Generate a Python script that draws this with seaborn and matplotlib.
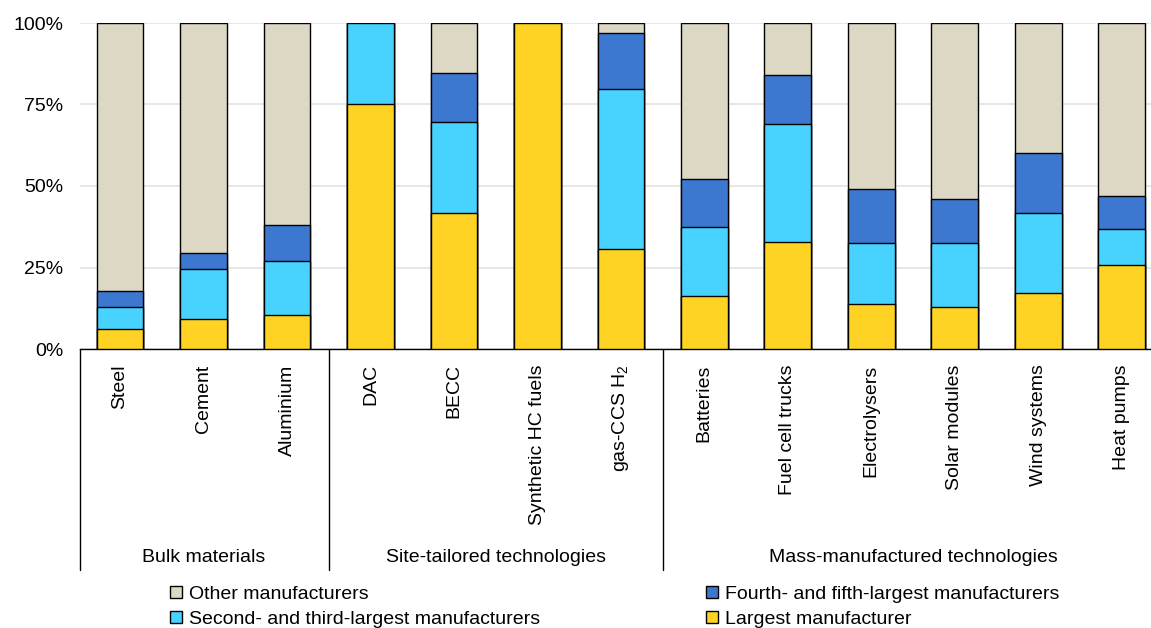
import matplotlib
matplotlib.use("Agg")
import matplotlib.pyplot as plt
import matplotlib.transforms as mtransforms
from matplotlib.patches import Patch
import seaborn as sns
import numpy as np
import pandas as pd

categories = ["Steel", "Cement", "Aluminium", "DAC", "BECC", "Synthetic HC fuels",
              "gas-CCS H$_2$", "Batteries", "Fuel cell trucks", "Electrolysers",
              "Solar modules", "Wind systems", "Heat pumps"]
largest = [6.0, 9.1, 10.5, 75.0, 41.7, 100.0, 30.7, 16.2, 32.7, 13.8, 12.8, 17.1, 25.9]
second_third = [7.0, 15.3, 16.4, 25.0, 27.9, 0.0, 49.2, 21.2, 36.3, 18.6, 19.6, 24.5, 11.0]
fourth_fifth = [4.7, 5.0, 11.2, 0.0, 15.1, 0.0, 16.9, 14.6, 15.1, 16.7, 13.5, 18.4, 10.0]
other = [82.3, 70.6, 61.9, 0.0, 15.3, 0.0, 3.2, 48.0, 15.9, 50.9, 54.1, 40.0, 53.1]
groups = ["Bulk materials", "Site-tailored technologies", "Mass-manufactured technologies"]
group_sizes = [3, 4, 6]
series_names = ["Largest manufacturer", "Second- and third-largest manufacturers",
                "Fourth- and fifth-largest manufacturers", "Other manufacturers"]
colors = ["#FFD324", "#48D3FF", "#3D78D0", "#DDD8C4"]

sns.set_theme(style="white")
plt.rcParams["font.family"] = ["Liberation Sans", "DejaVu Sans"]
plt.rcParams["mathtext.fontset"] = "custom"
plt.rcParams["mathtext.rm"] = "Liberation Sans"
plt.rcParams["mathtext.it"] = "Liberation Sans"
plt.rcParams["text.color"] = "black"
plt.rcParams["xtick.color"] = "black"
plt.rcParams["ytick.color"] = "black"
plt.rcParams["xtick.labelcolor"] = "black"
plt.rcParams["ytick.labelcolor"] = "black"

df = pd.DataFrame({"category": categories, "s0": largest, "s1": second_third,
                   "s2": fourth_fifth, "s3": other})
cum = df[["s0", "s1", "s2", "s3"]].cumsum(axis=1)

fig = plt.figure(figsize=(11.51, 6.28), dpi=100)
ax = fig.add_axes([80 / 1151, 1 - 349 / 628, 1 - 80 / 1151, 326 / 628])

for i in [3, 2, 1, 0]:
    sns.barplot(x=df["category"], y=cum[f"s{i}"], color=colors[i], width=0.56,
                edgecolor="black", linewidth=1.0, saturation=1, ax=ax, zorder=3)

ax.set_xlim(-0.479, 12.35)
ax.set_ylim(0, 100)
ax.set_yticks([0, 25, 50, 75, 100])
ax.set_yticklabels(["0%", "25%", "50%", "75%", "100%"], fontsize=14)
ax.yaxis.grid(True, color="#e3e3e3", linewidth=1.2, zorder=0)
ax.set_axisbelow(True)
ax.tick_params(axis="y", length=0, pad=12, colors="black")
ax.tick_params(axis="x", length=0, pad=11, colors="black")
ax.set_xticks(range(len(categories)))
ax.set_xticklabels(categories, rotation=90, fontsize=14, va="top")
ax.set_xlabel("")
ax.set_ylabel("")
for s in ["top", "right", "left"]:
    ax.spines[s].set_visible(False)
ax.spines["bottom"].set_color("black")
ax.spines["bottom"].set_linewidth(1.0)

trans = mtransforms.blended_transform_factory(ax.transData, ax.transAxes)
line_bottom = -(570 - 349) / 326
boundaries = [-0.479]
start = 0
for g, n in zip(groups, group_sizes):
    center = start + (n - 1) / 2
    ax.text(center, -(557 - 349) / 326, g, transform=trans, ha="center", va="center",
            fontsize=14, color="black")
    start += n
    if start < len(categories):
        boundaries.append(start - 0.5)
for b in boundaries:
    ax.plot([b, b], [0, line_bottom], transform=trans, color="black", linewidth=1.0,
            clip_on=False)

handles = [Patch(facecolor=colors[3], edgecolor="black", linewidth=1.0),
           Patch(facecolor=colors[1], edgecolor="black", linewidth=1.0),
           Patch(facecolor=colors[2], edgecolor="black", linewidth=1.0),
           Patch(facecolor=colors[0], edgecolor="black", linewidth=1.0)]
labels = [series_names[3], series_names[1], series_names[2], series_names[0]]
fig.legend(handles, labels, ncol=2, loc="upper left",
           bbox_to_anchor=(170 / 1151, 1 - 586 / 628), frameon=False, fontsize=14,
           handlelength=0.6, handleheight=0.6, handletextpad=0.4,
           labelspacing=0.4, columnspacing=8.5, borderpad=0, borderaxespad=0)

fig.savefig("out.png", dpi=100)
